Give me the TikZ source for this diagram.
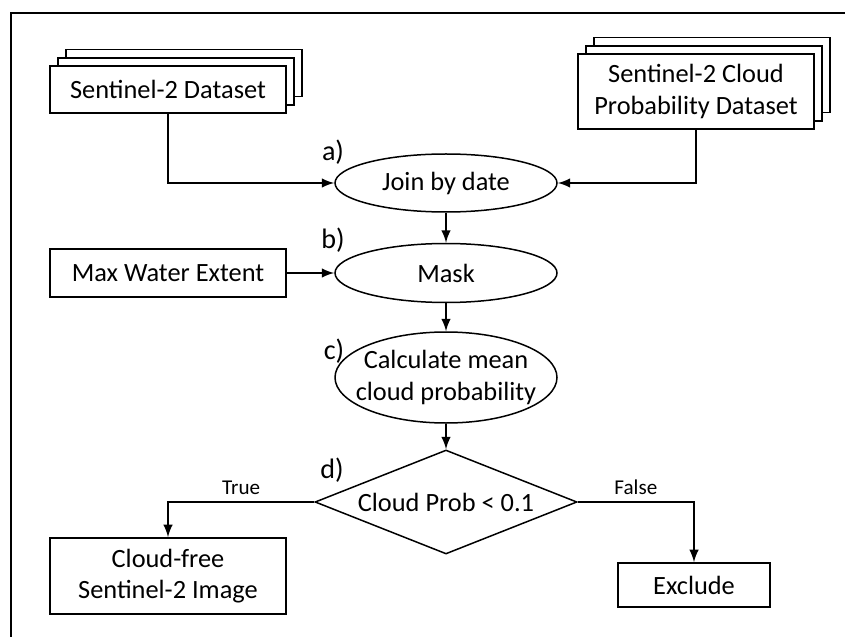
\documentclass[tikz,border=0pt]{standalone}
\usepackage{fontspec}
\setmainfont{Carlito}
\usetikzlibrary{arrows,positioning}
\usetikzlibrary{shapes.geometric,shadows}
\tikzset{box/.style={rectangle,draw=black,line width=0.35mm,fill=white,align=center,minimum width=4.72cm}}
\tikzset{stackbox/.style={box,copy shadow={shadow xshift=0.32cm,shadow yshift=0.33cm},copy shadow={shadow xshift=0.16cm,shadow yshift=0.16cm}}}
\tikzset{oval/.style={ellipse,draw=black,line width=0.3mm,align=center,inner xsep=-0.3cm,inner ysep=-0.2cm,minimum width=4.44cm}}
\tikzset{arr/.style={->,>=latex,line width=0.5mm}}

\begin{document}
\begin{tikzpicture}[font=\fontsize{15}{18}\selectfont]
\useasboundingbox (0,0) rectangle (16.9,-12.74);
% frame
\draw[line width=0.55mm] (0.22,-12.74) -- (0.22,-0.26) -- (16.9,-0.26);
%
\node (ds) [stackbox,minimum height=0.94cm] at (3.36,-1.79) {Sentinel-2 Dataset};
\node (cp) [stackbox,minimum height=1.5cm] at (13.92,-1.83) {Sentinel-2 Cloud\\Probability Dataset};
\node (join) [oval,minimum height=1.16cm] at (8.92,-3.66) {Join by date};
\node (mask) [oval,minimum height=1.18cm] at (8.92,-5.46) {Mask};
\node (calc) [oval,minimum height=1.82cm] at (8.92,-7.55) {Calculate mean\\cloud probability};
\node (cond) [diamond,aspect=2.52,draw=black,line width=0.3mm,inner sep=0pt,minimum width=5.24cm,minimum height=2.08cm] at (8.92,-10.04) {Cloud Prob < 0.1};
\node (maxw) [box,minimum height=0.96cm] at (3.36,-5.46) {Max Water Extent};
\node (free) [box,minimum height=1.52cm] at (3.36,-11.52) {Cloud-free\\Sentinel-2 Image};
\node (excl) [box,minimum width=3.04cm,minimum height=0.88cm] at (13.88,-11.7) {Exclude};
% step labels
\node (la) [font=\fontsize{16}{18}\selectfont] at (6.66,-3.04) {a)};
\node (lb) [font=\fontsize{16}{18}\selectfont] at (6.66,-4.8) {b)};
\node (lc) [font=\fontsize{16}{18}\selectfont] at (6.68,-7.02) {c)};
\node (ld) [font=\fontsize{16}{18}\selectfont] at (6.64,-9.4) {d)};
%
\draw[arr] (ds.south) |- (join.west);
\draw[arr] (cp.south) |- (join.east);
\draw[arr] (join) -- (mask);
\draw[arr] (maxw) -- (mask);
\draw[arr] (mask) -- (calc);
\draw[arr] (calc) -- (cond);
\draw[arr] (cond.west) -| node[pos=0.25,above,font=\fontsize{12}{14}\selectfont] {True} (free.north);
\draw[arr] (cond.east) -| node[pos=0.25,above,font=\fontsize{12}{14}\selectfont] {False} (excl.north);
\end{tikzpicture}
\end{document}
